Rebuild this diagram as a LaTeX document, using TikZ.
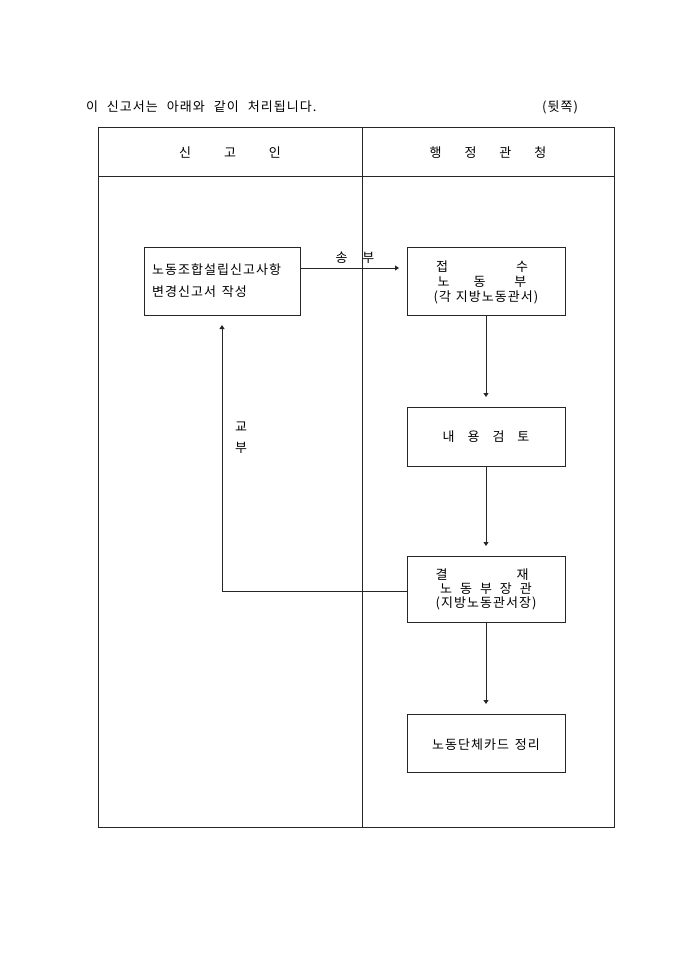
\documentclass[tikz,border=0pt]{standalone}
\usepackage{fontspec}
\setmainfont[LetterSpace=8]{Noto Sans CJK KR}
\usetikzlibrary{arrows.meta}
\begin{document}
\begin{tikzpicture}[x=1pt,y=-1pt,
  every node/.style={inner sep=0pt,outer sep=0pt},
  txt/.style={font=\fontsize{13}{15}\selectfont},
  hdr/.style={font=\fontsize{13}{15}\selectfont},
  box/.style={draw=black!85,line width=0.8pt,minimum width=158pt},
  frame/.style={draw=black!85,line width=0.8pt},
  conn/.style={draw=black!85,line width=0.8pt,-{Triangle[width=5pt,length=4pt]}}]
\useasboundingbox[fill=white] (0,0) rectangle (680,962);
% title
\node[txt,anchor=west] (title) at (86,107) {이\hspace{9pt}신고서는\hspace{9pt}아래와\hspace{9pt}같이\hspace{9pt}처리됩니다.};
\node[txt,anchor=east] (back) at (578,107) {(뒷쪽)};
% frame
\draw[frame] (98,127) rectangle (614,827);
\coordinate (hl) at (98,176);
\coordinate (hr) at (614,176);
\draw[frame] (hl) -- (hr);
\coordinate (vt) at (362,127);
\coordinate (vb) at (362,827);
\draw[frame] (vt) -- (vb);
\node[hdr] (h1) at (230,153) {신\hspace{33pt}고\hspace{33pt}인};
\node[hdr] (h2) at (488,153) {행\hspace{23pt}정\hspace{23pt}관\hspace{23pt}청};
% boxes
\node[box,minimum width=156pt,minimum height=68pt] (b1) at (222,281) {};
\node[box,minimum height=68pt] (b2) at (486,281) {};
\node[box,minimum height=59pt] (b3) at (486,436.5) {};
\node[box,minimum height=66pt] (b4) at (486,589) {};
\node[box,minimum height=58pt] (b5) at (486,743) {};
% box texts
\node[txt,anchor=west] (b1a) at (152,270) {노동조합설립신고사항};
\node[txt,anchor=west] (b1b) at (152,292) {변경신고서\hspace{6pt}작성};
\node[txt] (b2a) at (482,267) {접\hspace{68pt}수};
\node[txt] (b2b) at (482,282) {노\hspace{24pt}동\hspace{29pt}부};
\node[txt] (b2c) at (486,297) {(각\hspace{5pt}지방노동관서)};
\node[txt] (b3a) at (486,437) {내\hspace{13pt}용\hspace{13pt}검\hspace{13pt}토};
\node[txt] (b4a) at (482,575) {결\hspace{69pt}재};
\node[txt] (b4b) at (486,589) {노\hspace{8pt}동\hspace{8pt}부\hspace{8pt}장\hspace{8pt}관};
\node[txt] (b4c) at (486,603) {(지방노동관서장)};
\node[txt] (b5a) at (486,745) {노동단체카드\hspace{6pt}정리};
% connectors
\coordinate (s1) at ([yshift=13pt]b1.east);
\coordinate (e1) at ([yshift=13pt]b2.west);
\draw[conn,shorten >=8pt] (s1) -- (e1);
\node[txt] (l1) at (355,258) {송\hspace{15pt}부};
\draw[conn,shorten >=10pt] (b2.south) -- (b3.north);
\draw[conn,shorten >=10pt] (b3.south) -- (b4.north);
\draw[conn,shorten >=10pt] (b4.south) -- (b5.north);
\coordinate (s4) at ([yshift=-2pt]b4.west);
\draw[conn,shorten >=10pt] (s4) -- (b1.south |- s4) -- (b1.south);
\node[txt] (l2a) at (241,427) {교};
\node[txt] (l2b) at (241,448) {부};
\end{tikzpicture}
\end{document}
